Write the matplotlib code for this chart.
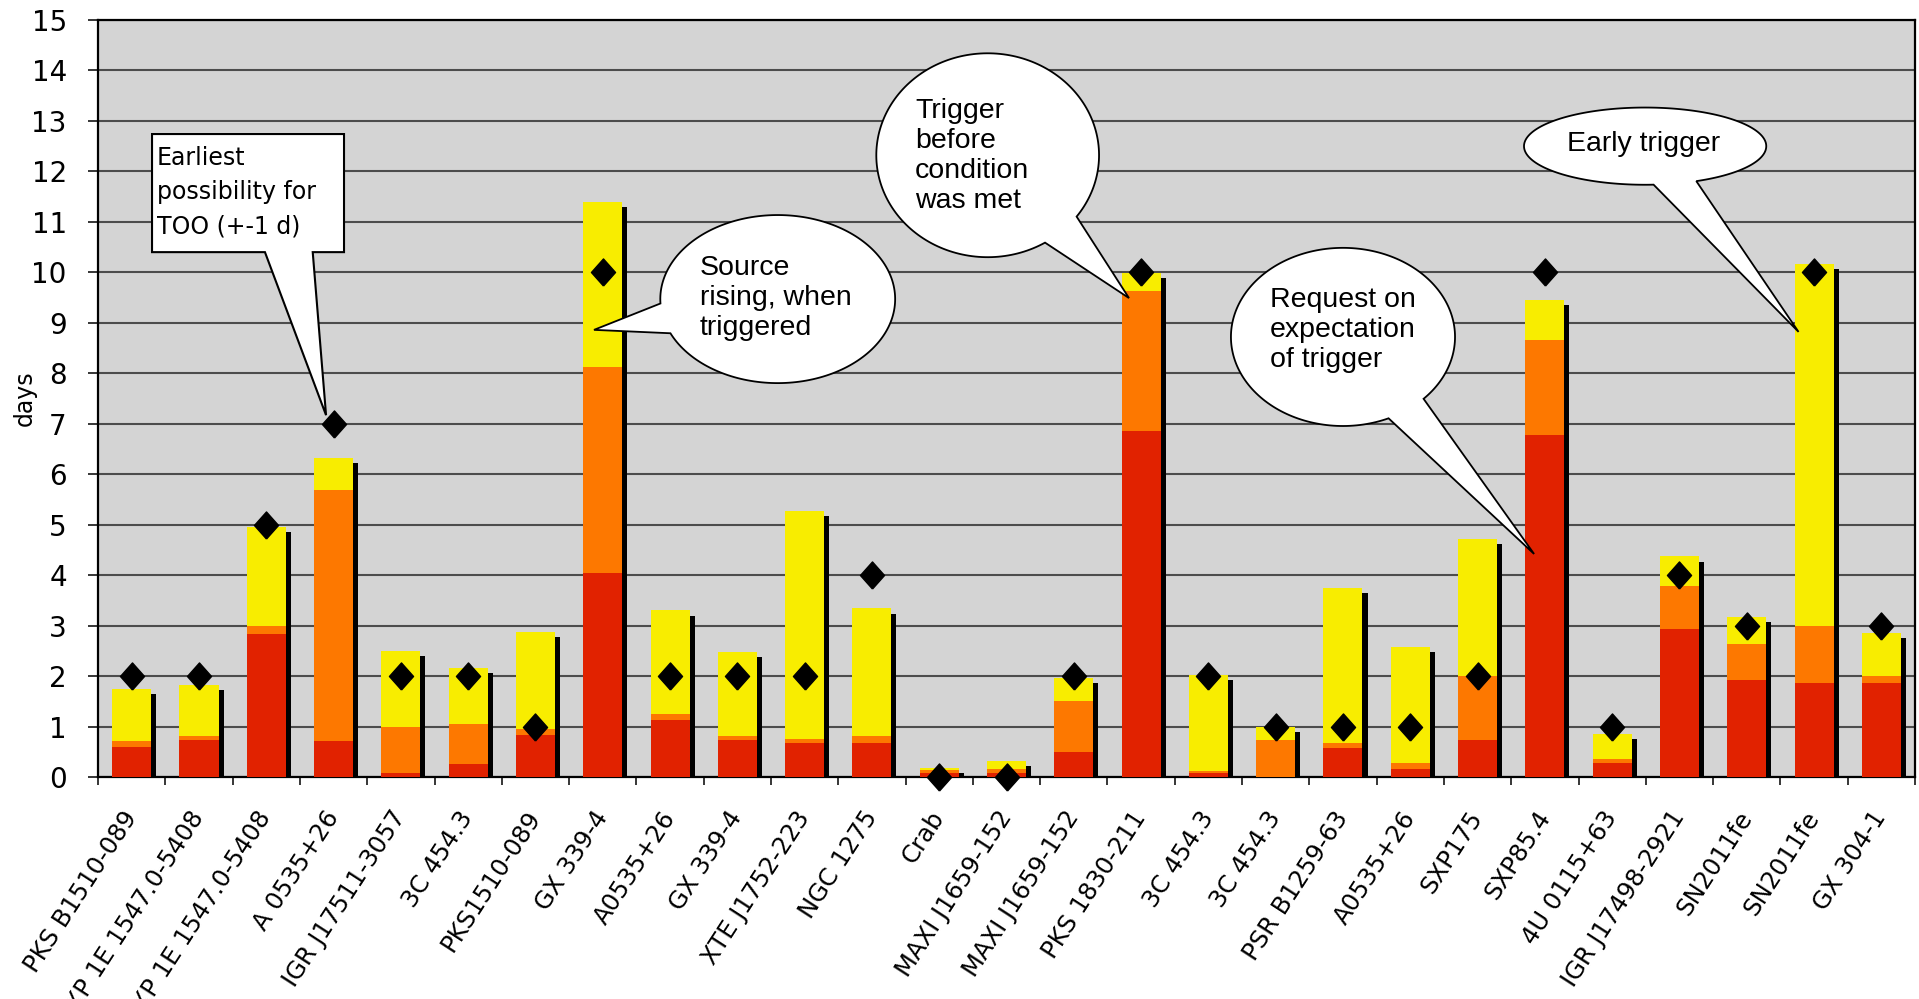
import numpy as np
import matplotlib.pyplot as plt
from matplotlib.patches import Polygon

plt.rcParams['font.family'] = 'DejaVu Sans'

sources = ["PKS B1510-089", "AXP 1E 1547.0-5408", "AXP 1E 1547.0-5408", "A 0535+26",
           "IGR J17511-3057", "3C 454.3", "PKS1510-089", "GX 339-4", "A0535+26",
           "GX 339-4", "XTE J1752-223", "NGC 1275", "Crab", "MAXI J1659-152",
           "MAXI J1659-152", "PKS 1830-211", "3C 454.3", "3C 454.3", "PSR B1259-63",
           "A0535+26", "SXP175", "SXP85.4", "4U 0115+63", "IGR J17498-2921",
           "SN2011fe", "SN2011fe", "GX 304-1"]

# stacked segments (days)
red_part = [0.60, 0.73, 2.83, 0.71, 0.07, 0.26, 0.83, 4.05, 1.13, 0.74, 0.68, 0.68, 0.08, 0.07,
            0.50, 6.86, 0.07, 0.01, 0.58, 0.16, 0.74, 6.78, 0.28, 2.93, 1.93, 1.87, 1.86]
orange_part = [0.11, 0.08, 0.17, 4.97, 0.92, 0.80, 0.12, 4.07, 0.12, 0.07, 0.08, 0.13, 0.06, 0.08,
               1.00, 2.77, 0.05, 0.72, 0.10, 0.12, 1.26, 1.88, 0.08, 0.86, 0.71, 1.13, 0.14]
yellow_part = [1.03, 1.01, 1.95, 0.65, 1.50, 1.10, 1.92, 3.27, 2.05, 1.67, 4.51, 2.53, 0.04, 0.17,
               0.46, 0.36, 1.90, 0.27, 3.07, 2.30, 2.72, 0.79, 0.50, 0.58, 0.53, 7.16, 0.86]
# diamonds
expected = [2, 2, 5, 7, 2, 2, 1, 10, 2, 2, 2, 4, 0, 0, 2, 10, 2, 1, 1, 1, 2, 10, 1, 4, 3, 10, 3]

yticks = list(range(0, 16))

red_c = '#e12200'
orange_c = '#fd7800'
yellow_c = '#f8ed00'

fig = plt.figure(figsize=(19.19, 9.99), dpi=100)
ax = fig.add_axes([0.0511, 0.2222, 0.9468, 0.7578])
ax.set_facecolor('#d4d4d4')

x = np.arange(len(sources))
red_part = np.array(red_part)
orange_part = np.array(orange_part)
yellow_part = np.array(yellow_part)
total = red_part + orange_part + yellow_part
w = 0.58

# drop shadow behind each bar
ax.bar(x + 0.075, total - 0.1, width=w, color='black', zorder=2)
ax.bar(x, red_part, width=w, color=red_c, zorder=3)
ax.bar(x, orange_part, width=w, bottom=red_part, color=orange_c, zorder=3)
ax.bar(x, yellow_part, width=w, bottom=red_part + orange_part, color=yellow_c, zorder=3)

diamond = [(0, -1), (0.89, 0), (0, 1), (-0.89, 0), (0, -1)]
ax.plot(x, expected, linestyle='none', marker=diamond, markersize=19.5,
        color='black', zorder=8, clip_on=False)

ax.set_xlim(-0.5, len(sources) - 0.5)
ax.set_ylim(0, 15)
ax.set_yticks(yticks)
ax.yaxis.grid(True, color='#4c4c4c', linewidth=1.5)
ax.set_axisbelow(True)
ax.tick_params(axis='y', labelsize=20, length=7.5, width=1.1, pad=15)

ax.set_xticks(x)
ax.set_xticklabels(sources, rotation=57, ha='right', va='center',
                   rotation_mode='anchor', fontsize=17.5)
ax.set_xticks(np.arange(len(sources) + 1) - 0.5, minor=True)
ax.tick_params(axis='x', which='major', length=0, pad=26)
ax.tick_params(axis='x', which='minor', length=6, width=1.1)

for s in ax.spines.values():
    s.set_linewidth(1.6)

ax.set_ylabel('days', fontsize=17)
ax.yaxis.set_label_coords(-0.034, 0.5)

# callouts
def bubble(cx, cy, bw, bh, a1, a2, tip):
    th = np.radians(np.linspace(a2, a1 + 360, 200))
    pts = list(zip(cx + bw / 2 * np.cos(th), cy + bh / 2 * np.sin(th)))
    pts.append(tip)
    ax.add_patch(Polygon(pts, closed=True, facecolor='white', edgecolor='black',
                         linewidth=1.3, zorder=6, clip_on=False))

bfont = dict(family=['Liberation Sans', 'DejaVu Sans'], fontsize=20.5, zorder=7, linespacing=1.2)

bubble(9.60, 9.47, 3.49, 3.33, 183, 204, (6.87, 8.86))
ax.text(8.445, 9.50, "Source\nrising, when\ntriggered", ha='left', va='center', **bfont)

bubble(12.72, 12.32, 3.31, 4.04, -59, -37, (14.82, 9.49))
ax.text(11.64, 12.30, "Trigger\nbefore\ncondition\nwas met", ha='left', va='center', **bfont)

bubble(18.0, 8.72, 3.33, 3.53, -66, -44, (20.84, 4.42))
ax.text(16.91, 8.86, "Request on\nexpectation\nof trigger", ha='left', va='center', **bfont)

bubble(22.49, 12.50, 3.60, 1.53, -86, -65, (24.77, 8.82))
ax.text(22.47, 12.54, "Early trigger", ha='center', va='center', **bfont)

# rectangular callout
box = [(0.302, 12.74), (3.155, 12.74), (3.155, 10.40), (2.69, 10.40), (2.888, 7.17),
       (1.98, 10.40), (0.302, 10.40)]
ax.add_patch(Polygon(box, closed=True, facecolor='white', edgecolor='black',
                     linewidth=1.5, zorder=6, clip_on=False))
ax.text(0.377, 12.51, "Earliest\npossibility for\nTOO (+-1 d)", ha='left', va='top',
        fontsize=17, zorder=7, linespacing=1.55)

fig.savefig('out.png', dpi=100)
